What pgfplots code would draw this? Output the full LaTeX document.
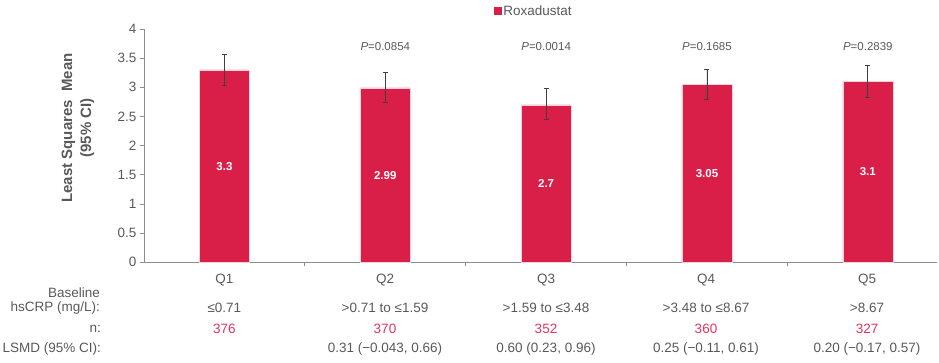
\documentclass[border=0pt]{standalone}
\usepackage{fontspec}
\setmainfont{Liberation Sans}
\usepackage{pgfplots}
\pgfplotsset{compat=1.18}
\definecolor{barred}{HTML}{D91E48}
\definecolor{nred}{HTML}{E2345C}
\definecolor{txt}{HTML}{595959}
\definecolor{axgray}{HTML}{8C8C8C}
\definecolor{errgray}{HTML}{404040}
\begin{document}
\begin{tikzpicture}[x=1pt,y=1pt]
\useasboundingbox (0,0) rectangle (939,363);
\begin{axis}[
  at={(144pt,100.7pt)}, anchor=south west,
  scale only axis, width=793pt, height=233.3pt,
  xmin=-0.5, xmax=4.43, ymin=0, ymax=4,
  axis x line*=bottom, axis y line*=left,
  axis line style={axgray, line width=0.8pt},
  xtick={0.5,1.5,2.5,3.5}, xticklabels={},
  ytick={0,0.5,1,1.5,2,2.5,3,3.5,4},
  yticklabels={0,0.5,1,1.5,2,2.5,3,3.5,4},
  tick align=outside, major tick length=4pt,
  tick style={axgray, line width=0.8pt},
  yticklabel style={font=\fontsize{13.5}{16}\selectfont, text=txt},
  /pgf/number format/assume math mode=true,
  clip=false,
  legend style={at={(0.4410,1.077)}, anchor=west, draw=none, fill=none,
    font=\fontsize{13.5}{16}\selectfont, text=txt, inner sep=0pt,
    /tikz/every even column/.append style={column sep=4pt}},
]
\addplot[ybar, bar width=50pt, fill=barred, draw=white!80!barred, line width=0.4pt,
  legend image code/.code={\fill[barred] (0pt,-3.5pt) rectangle (7pt,3.5pt);},
  error bars/.cd, y dir=both, y explicit,
  error bar style={errgray, line width=0.8pt},
  error mark options={rotate=90, errgray, mark size=2.5pt, line width=0.8pt}]
coordinates {
  (0,3.30) += (0,0.27) -= (0,0.27)
  (1,2.99) += (0,0.27) -= (0,0.25)
  (2,2.70) += (0,0.28) -= (0,0.25)
  (3,3.05) += (0,0.26) -= (0,0.26)
  (4,3.10) += (0,0.27) -= (0,0.28)
};
\addlegendentry{Roxadustat}
% value labels inside bars
\addplot[forget plot, draw=none, mark=none, nodes near coords, point meta=explicit symbolic,
  every node near coord/.style={anchor=center, text=white, font=\fontsize{11.5}{14}\selectfont\bfseries}]
coordinates {(0,1.65)[3.3] (1,1.495)[2.99] (2,1.35)[2.7] (3,1.525)[3.05] (4,1.55)[3.1]};
% P values
\addplot[forget plot, draw=none, mark=none, nodes near coords, point meta=explicit symbolic,
  every node near coord/.style={anchor=center, text=txt, font=\fontsize{11.5}{14}\selectfont}]
coordinates {(1,3.70)[\textit{P}=0.0854] (2,3.70)[\textit{P}=0.0014] (3,3.70)[\textit{P}=0.1685] (4,3.70)[\textit{P}=0.2839]};
\end{axis}
% y label
\node[rotate=90, align=center, text=txt, font=\fontsize{15}{19}\selectfont\bfseries] at (78,235) {Least Squares\ \ Mean\\(95\% CI)};
% table rows
\begin{scope}[every node/.style={font=\fontsize{13.5}{16}\selectfont, text=txt, inner sep=0pt}]
\node[anchor=east] at (100,70) {Baseline};
\node[anchor=east] at (100,55) {hsCRP (mg/L):};
\node[anchor=east] at (101,34) {n:};
\node[anchor=east] at (101,14) {LSMD (95\% CI):};
\foreach \x/\q/\h/\n/\l in {224.4/Q1/≤0.71/376/{},385/Q2/>0.71 to ≤1.59/370/{0.31 (−0.043, 0.66)},546/Q3/>1.59 to ≤3.48/352/{0.60 (0.23, 0.96)},706/Q4/>3.48 to ≤8.67/360/{0.25 (−0.11, 0.61)},867/Q5/>8.67/327/{0.20 (−0.17, 0.57)}}{
  \node at (\x,83) {\q};
  \node at (\x,55) {\h};
  \node[text=nred] at (\x,34) {\n};
  \node at (\x,14) {\l};
}
\end{scope}
\end{tikzpicture}
\end{document}
